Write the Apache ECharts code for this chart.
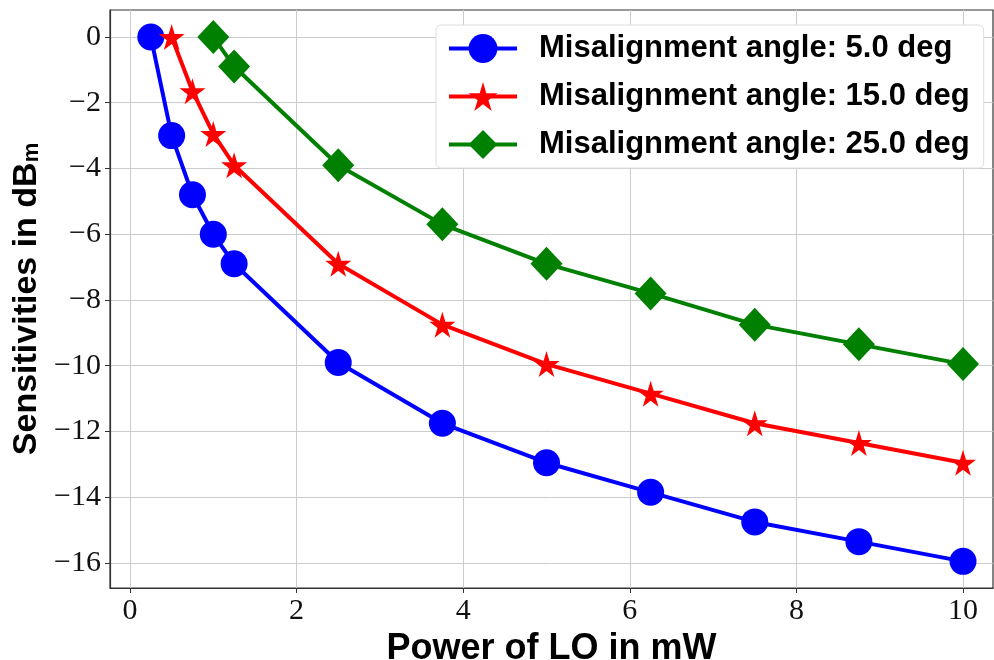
<!DOCTYPE html>
<html>
<head>
<meta charset="utf-8">
<script src="https://cdn.jsdelivr.net/npm/echarts@6/dist/echarts.min.js"></script>
<style>
  html, body { margin: 0; padding: 0; background: #fff; }
  #chart { width: 994px; height: 660px; }
</style>
</head>
<body>
<div id="chart"></div>
<script>
// data
const names = [
  'Misalignment angle: 5.0 deg',
  'Misalignment angle: 15.0 deg',
  'Misalignment angle: 25.0 deg'
]
const power5 = [0.25, 0.5, 0.75, 1, 1.25, 2.5, 3.75, 5, 6.25, 7.5, 8.75, 10]
const sens5 = [0, -3, -4.8, -6, -6.9, -9.9, -11.75, -12.95, -13.85, -14.75, -15.35, -15.95]
const power15 = [0.5, 0.75, 1, 1.25, 2.5, 3.75, 5, 6.25, 7.5, 8.75, 10]
const sens15 = [0, -1.65, -2.95, -3.9, -6.9, -8.75, -9.95, -10.85, -11.75, -12.35, -12.95]
const power25 = [1, 1.25, 2.5, 3.75, 5, 6.25, 7.5, 8.75, 10]
const sens25 = [0, -0.9, -3.9, -5.7, -6.9, -7.8, -8.75, -9.35, -9.95]
const xTicks = [0, 2, 4, 6, 8, 10]
const yTicks = [0, -2, -4, -6, -8, -10, -12, -14, -16]

const star = 'path://M50,0 L61,35 L98,35 L68,57 L79,91 L50,70 L21,91 L32,57 L2,35 L39,35 Z'
const zip = (xs, ys) => xs.map((x, i) => [x, ys[i]])

const chart = echarts.init(document.getElementById('chart'))
chart.setOption({
  animation: false,
  grid: {
    left: 110, right: 1, top: 10, bottom: 72,
    outerBoundsMode: 'none',
    show: true, borderColor: '#333', borderWidth: 1.2
  },
  legend: {
    left: 436, top: 25,
    orient: 'vertical',
    padding: [8, 14, 8, 11],
    itemGap: 17,
    itemWidth: 68, itemHeight: 36,
    backgroundColor: '#fff',
    borderColor: '#ddd', borderWidth: 1, borderRadius: 5,
    lineStyle: { width: 4 },
    textStyle: {
      fontFamily: 'Liberation Sans', fontWeight: 'bold',
      fontSize: 31, color: '#000', padding: [0, 0, 0, 17]
    },
    data: names
  },
  xAxis: {
    type: 'value', min: -0.24, max: 10.36,
    name: 'Power of LO in mW', nameLocation: 'middle', nameGap: 36,
    nameTextStyle: { fontFamily: 'Liberation Sans', fontWeight: 'bold', fontSize: 36, color: '#000' },
    axisLine: { onZero: false, lineStyle: { color: '#333', width: 1.2 } },
    axisTick: { show: true, length: 5, customValues: xTicks, lineStyle: { color: '#333' } },
    axisLabel: { customValues: xTicks, fontFamily: 'Liberation Serif', fontSize: 30, color: '#111', margin: 8 },
    splitLine: { show: true, lineStyle: { color: '#ccc', width: 1 } }
  },
  yAxis: {
    type: 'value', min: -16.76, max: 0.82,
    name: '{a|Sensitivities in dB}{b|m}', nameLocation: 'middle', nameGap: 66,
    nameTextStyle: {
      rich: {
        a: { fontFamily: 'Liberation Sans', fontWeight: 'bold', fontSize: 34, color: '#000' },
        b: { fontFamily: 'Liberation Sans', fontWeight: 'bold', fontSize: 22, color: '#000', verticalAlign: 'bottom' }
      }
    },
    axisLine: { show: true, onZero: false, lineStyle: { color: '#333', width: 1.2 } },
    axisTick: { show: true, length: 5, customValues: yTicks, lineStyle: { color: '#333' } },
    axisLabel: {
      customValues: yTicks, fontFamily: 'Liberation Serif', fontSize: 30, color: '#111', margin: 9,
      formatter: v => (v < 0 ? '\u2212' + Math.abs(v) : String(v))
    },
    splitLine: { show: true, lineStyle: { color: '#ccc', width: 1 } }
  },
  series: [
    {
      name: names[0], type: 'line', data: zip(power5, sens5),
      color: '#0000ff', lineStyle: { width: 4 },
      symbol: 'circle', symbolSize: 27
    },
    {
      name: names[1], type: 'line', data: zip(power15, sens15),
      color: '#ff0000', lineStyle: { width: 4 },
      symbol: star, symbolSize: 26
    },
    {
      name: names[2], type: 'line', data: zip(power25, sens25),
      color: '#008000', lineStyle: { width: 4 },
      symbol: 'diamond', symbolSize: [32, 34]
    }
  ]
})
</script>
</body>
</html>
